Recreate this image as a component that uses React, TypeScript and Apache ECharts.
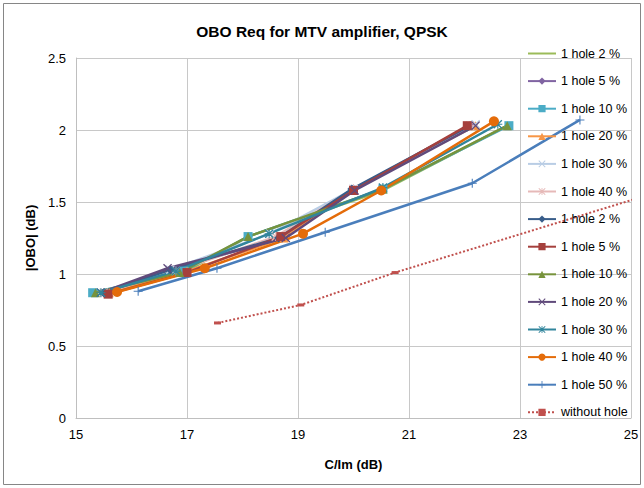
import React, { useEffect, useRef } from "react";
import * as echarts from "echarts";

const seriesNames = [
  "1 hole 2 %", "1 hole 5 %", "1 hole 10 %", "1 hole 20 %", "1 hole 30 %", "1 hole 40 %",
  "1 hole 2 % ", "1 hole 5 % ", "1 hole 10 % ", "1 hole 20 % ", "1 hole 30 % ", "1 hole 40 % ",
  "1 hole 50 %", "without hole",
];

const s1 = [[15.3, 0.87], [16.95, 1.01], [18.1, 1.26], [20.53, 1.58], [22.77, 2.03]];
const s2 = [[15.5, 0.87], [16.7, 1.03], [18.7, 1.25], [20.0, 1.59], [22.1, 2.03]];
const s3 = [[15.3, 0.87], [16.95, 1.02], [18.1, 1.26], [20.53, 1.59], [22.8, 2.03]];
const s4 = [[15.6, 0.87], [17.0, 1.02], [18.75, 1.25], [20.0, 1.59], [22.2, 2.03]];
const s5 = [[15.45, 0.87], [16.7, 1.03], [18.5, 1.28], [20.0, 1.59], [22.2, 2.04]];
const s6 = [[15.5, 0.87], [16.8, 1.02], [18.6, 1.26], [20.0, 1.59], [22.1, 2.03]];
const s7 = [[15.5, 0.87], [16.7, 1.03], [18.65, 1.25], [19.97, 1.59], [22.05, 2.02]];
const s8 = [[15.58, 0.86], [17.0, 1.01], [18.69, 1.26], [20.0, 1.58], [22.05, 2.03]];
const s9 = [[15.35, 0.87], [16.87, 1.01], [18.1, 1.26], [20.53, 1.59], [22.77, 2.03]];
const s10 = [[15.45, 0.87], [16.65, 1.04], [18.78, 1.25], [20.02, 1.58], [22.2, 2.03]];
const s11 = [[15.45, 0.87], [16.8, 1.02], [18.48, 1.28], [20.53, 1.6], [22.6, 2.04]];
const s12 = [[15.74, 0.875], [17.32, 1.04], [19.09, 1.28], [20.5, 1.58], [22.53, 2.06]];
const s13 = [[16.12, 0.88], [17.54, 1.04], [19.49, 1.29], [22.14, 1.63], [24.08, 2.07]];
const s14 = [[17.55, 0.66], [19.05, 0.785], [20.75, 1.01], [26.5, 1.69]];

const seriesData = [s1, s2, s3, s4, s5, s6, s7, s8, s9, s10, s11, s12, s13, s14];

const xTicks = [15, 17, 19, 21, 23, 25];

const colors = [
  "#9BBB59", "#8064A2", "#4BACC6", "#F79646", "#B9CDE5", "#E6B9B8",
  "#385D8A", "#A5403D", "#77933C", "#604A7B", "#31859C", "#E46C0A",
  "#4A7EBB", "#C0504D",
];

const X_SYM = "path://M1,0L5,4L9,0L10,1L6,5L10,9L9,10L5,6L1,10L0,9L4,5L0,1Z";
const PLUS_SYM = "path://M4.4,0H5.6V4.4H10V5.6H5.6V10H4.4V5.6H0V4.4H4.4Z";
const STAR_SYM =
  "path://M1,0L5,4L9,0L10,1L6,5L10,9L9,10L5,6L1,10L0,9L4,5L0,1Z M4.4,0H5.6V4.4H10V5.6H5.6V10H4.4V5.6H0V4.4H4.4Z";

const symbols = [
  "none", "diamond", "rect", "triangle", X_SYM, STAR_SYM,
  "diamond", "rect", "triangle", X_SYM, STAR_SYM, "circle",
  PLUS_SYM, "rect",
];

const FONT = "Liberation Sans";

export default function App() {
  const ref = useRef<HTMLDivElement>(null);
  useEffect(() => {
    if (!ref.current) return;
    const chart = echarts.init(ref.current, undefined, { renderer: "svg" });
    const series = seriesData.map((d, i) => {
      const isNoHole = i === 13;
      return {
        name: seriesNames[i],
        type: "line",
        data: d,
        symbol: symbols[i],
        symbolSize: isNoHole ? [7, 3] : symbols[i] === "circle" ? 10 : 9,
        showSymbol: symbols[i] !== "none",
        clip: true,
        z: 2,
        lineStyle: {
          color: colors[i],
          width: isNoHole ? 2 : 2.5,
          type: isNoHole ? "dotted" : "solid",
        },
        itemStyle: { color: colors[i] },
        emphasis: { disabled: true },
      };
    });
    chart.setOption({
      animation: false,
      backgroundColor: "#ffffff",
      color: colors,
      title: {
        text: "OBO Req for MTV amplifier, QPSK",
        left: "center",
        top: 18,
        textStyle: { fontFamily: FONT, fontSize: 15.5, fontWeight: "bold", color: "#000" },
      },
      graphic: [
        {
          type: "rect",
          shape: { x: 3.5, y: 3.5, width: 637, height: 481 },
          style: { fill: "none", stroke: "#868686", lineWidth: 1 },
          silent: true,
        },
      ],
      legend: {
        orient: "vertical",
        left: 522,
        top: 42,
        itemWidth: 28,
        itemHeight: 9,
        itemGap: 14.6,
        textStyle: { fontFamily: FONT, fontSize: 12.5, color: "#000" },
        data: seriesNames.map((n, i) =>
          i === 0 ? { name: n, itemStyle: { opacity: 0 } } : { name: n }
        ),
      },
      grid: { left: 76, right: 13, top: 58, bottom: 70 },
      xAxis: {
        type: "value",
        min: 15,
        max: 25,
        name: "C/Im (dB)",
        nameLocation: "middle",
        nameGap: 40,
        nameTextStyle: { fontFamily: FONT, fontSize: 13, fontWeight: "bold", color: "#000" },
        axisLine: { show: true, lineStyle: { color: "#BFBFBF" } },
        axisTick: { show: false, customValues: xTicks },
        axisLabel: {
          customValues: xTicks,
          fontFamily: FONT,
          fontSize: 13,
          color: "#000",
          margin: 10,
        },
        splitLine: { show: true, lineStyle: { color: "#C8C8C8", width: 1 } },
      },
      yAxis: {
        type: "value",
        min: 0,
        max: 2.5,
        interval: 0.5,
        name: "|OBO| (dB)",
        nameLocation: "middle",
        nameGap: 36,
        nameTextStyle: { fontFamily: FONT, fontSize: 13, fontWeight: "bold", color: "#000" },
        axisLine: { show: true, lineStyle: { color: "#BFBFBF" } },
        axisTick: { show: false },
        axisLabel: { fontFamily: FONT, fontSize: 13, color: "#000", margin: 10 },
        splitLine: { show: true, lineStyle: { color: "#C8C8C8", width: 1 } },
      },
      series,
    });
    return () => chart.dispose();
  }, []);
  return (
    <div
      ref={ref}
      style={{ width: 644, height: 488, position: "fixed", left: 0, top: 0 }}
    />
  );
}
